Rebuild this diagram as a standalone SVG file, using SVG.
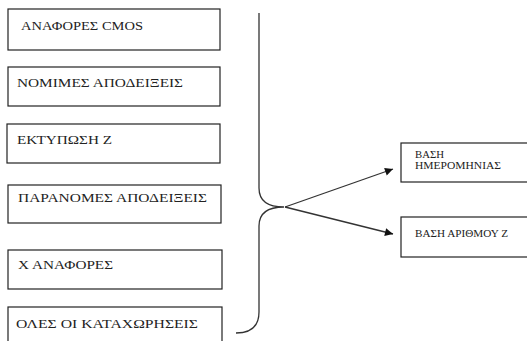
<svg xmlns="http://www.w3.org/2000/svg" width="527" height="341" viewBox="0 0 527 341">
<style>
.box{fill:#fff;stroke:#222;stroke-width:1.2}
.t{font-family:"Liberation Serif","Times New Roman",serif;font-size:12px;fill:#222}
.s{font-family:"Liberation Serif","Times New Roman",serif;font-size:11px;fill:#222}
.c{fill:none;stroke:#333;stroke-width:1.3}
</style>
<defs>
<marker id="ah" viewBox="0 0 10 10" refX="10" refY="5" markerWidth="10" markerHeight="8" markerUnits="userSpaceOnUse" orient="auto">
<path d="M0,0 L10,5 L0,10 z" fill="#111"/>
</marker>
</defs>
<rect width="527" height="341" fill="#fff"/>
<g id="n1"><rect class="box" x="8" y="9" width="212" height="41"/><text class="t" x="21" y="30" textLength="122" lengthAdjust="spacingAndGlyphs">ΑΝΑΦΟΡΕΣ CMOS</text></g>
<g id="n2"><rect class="box" x="8" y="67" width="212" height="39"/><text class="t" x="17" y="87" textLength="166" lengthAdjust="spacingAndGlyphs">ΝΟΜΙΜΕΣ ΑΠΟΔΕΙΞΕΙΣ</text></g>
<g id="n3"><rect class="box" x="7" y="124" width="213" height="39"/><text class="t" x="17" y="144" textLength="95" lengthAdjust="spacingAndGlyphs">ΕΚΤΥΠΩΣΗ Ζ</text></g>
<g id="n4"><rect class="box" x="8" y="185" width="213" height="38"/><text class="t" x="18" y="202" textLength="189" lengthAdjust="spacingAndGlyphs">ΠΑΡΑΝΟΜΕΣ ΑΠΟΔΕΙΞΕΙΣ</text></g>
<g id="n5"><rect class="box" x="8" y="250" width="214" height="39"/><text class="t" x="18" y="269" textLength="95" lengthAdjust="spacingAndGlyphs">Χ ΑΝΑΦΟΡΕΣ</text></g>
<g id="n6"><rect class="box" x="8" y="307" width="214" height="40"/><text class="t" x="16" y="328" textLength="182" lengthAdjust="spacingAndGlyphs">ΟΛΕΣ ΟΙ ΚΑΤΑΧΩΡΗΣΕΙΣ</text></g>
<g id="n7"><rect class="box" x="401" y="143" width="130" height="39"/><text class="s" x="415" y="158" textLength="29" lengthAdjust="spacingAndGlyphs">ΒΑΣΗ</text><text class="s" x="415" y="169" textLength="86" lengthAdjust="spacingAndGlyphs">ΗΜΕΡΟΜΗΝΙΑΣ</text></g>
<g id="n8"><rect class="box" x="401" y="217" width="130" height="40"/><text class="s" x="415" y="237" textLength="93" lengthAdjust="spacingAndGlyphs">ΒΑΣΗ ΑΡΙΘΜΟΥ Ζ</text></g>
<g id="connectors">
<path class="c" d="M259,13 L259,188 Q259,207 284,207 Q259,207 259,226 L259,312 Q259,333 236,333" stroke="#555"/>
<line class="c" x1="285" y1="207" x2="393" y2="169" marker-end="url(#ah)"/>
<line class="c" x1="285" y1="207" x2="393" y2="234" marker-end="url(#ah)"/>
</g>
</svg>
